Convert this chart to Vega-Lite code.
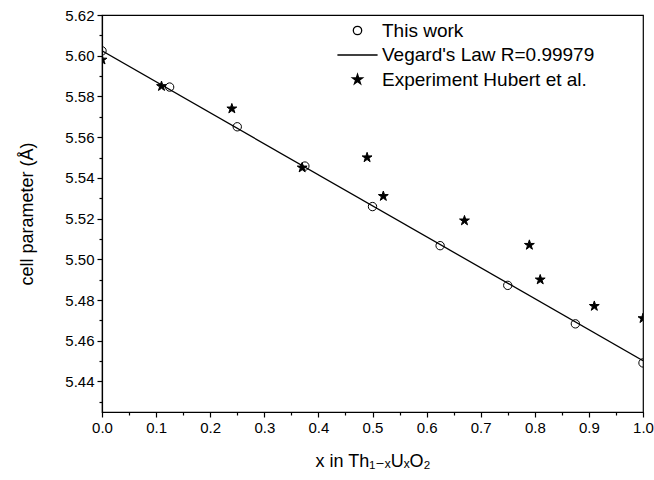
{
  "$schema": "https://vega.github.io/schema/vega-lite/v6.json",
  "width": 541,
  "height": 397,
  "autosize": {"type": "none"},
  "padding": {"left": 102, "top": 15, "right": 11, "bottom": 68},
  "background": "white",
  "config": {
    "font": "Liberation Sans, DejaVu Sans",
    "view": {"stroke": "black", "strokeWidth": 1.2},
    "axis": {"grid": false, "domainColor": "black", "tickColor": "black", "labelColor": "black", "titleColor": "black", "domainWidth": 1.2, "tickWidth": 1.2, "labelFont": "Liberation Sans, DejaVu Sans", "titleFont": "Liberation Sans, DejaVu Sans", "titleFontWeight": "normal"},
    "legend": {"labelFont": "Liberation Sans, DejaVu Sans", "labelLimit": 400}
  },
  "datasets": {
    "pts": [
      {"series": "This work", "x": 0.0, "a": 5.6024},
      {"series": "This work", "x": 0.125, "a": 5.5846},
      {"series": "This work", "x": 0.25, "a": 5.5651},
      {"series": "This work", "x": 0.375, "a": 5.5458},
      {"series": "This work", "x": 0.5, "a": 5.5259},
      {"series": "This work", "x": 0.625, "a": 5.5067},
      {"series": "This work", "x": 0.75, "a": 5.4872},
      {"series": "This work", "x": 0.875, "a": 5.4683},
      {"series": "This work", "x": 1.0, "a": 5.4491},
      {"series": "Experiment Hubert et al.", "x": 0.0, "a": 5.598},
      {"series": "Experiment Hubert et al.", "x": 0.11, "a": 5.585},
      {"series": "Experiment Hubert et al.", "x": 0.24, "a": 5.574},
      {"series": "Experiment Hubert et al.", "x": 0.37, "a": 5.545},
      {"series": "Experiment Hubert et al.", "x": 0.49, "a": 5.55},
      {"series": "Experiment Hubert et al.", "x": 0.52, "a": 5.531},
      {"series": "Experiment Hubert et al.", "x": 0.67, "a": 5.519},
      {"series": "Experiment Hubert et al.", "x": 0.79, "a": 5.507},
      {"series": "Experiment Hubert et al.", "x": 0.81, "a": 5.49},
      {"series": "Experiment Hubert et al.", "x": 0.91, "a": 5.477},
      {"series": "Experiment Hubert et al.", "x": 1.0, "a": 5.471}
    ],
    "fit": [
      {"series": "Vegard's Law R=0.99979", "x": 0.0, "a": 5.6024},
      {"series": "Vegard's Law R=0.99979", "x": 1.0, "a": 5.4502}
    ]
  },
  "layer": [
    {
      "data": {"name": "fit"},
      "mark": {"type": "line", "color": "black", "strokeWidth": 1.3, "clip": true},
      "encoding": {
        "x": {"field": "x", "type": "quantitative", "scale": {"domain": [0, 1], "nice": false, "zero": false},
          "axis": {"orient": "bottom", "values": [0, 0.1, 0.2, 0.3, 0.4, 0.5, 0.6, 0.7, 0.8, 0.9, 1.0], "format": ".1f", "tickSize": 5, "labelFontSize": 15, "labelPadding": 3, "labelFlush": false, "title": "x in Th₁₋ₓUₓO₂", "titleFontSize": 18, "titlePadding": 17}},
        "y": {"field": "a", "type": "quantitative", "scale": {"domain": [5.425, 5.62], "nice": false, "zero": false},
          "axis": {"orient": "left", "values": [5.44, 5.46, 5.48, 5.5, 5.52, 5.54, 5.56, 5.58, 5.6, 5.62], "format": ".2f", "tickSize": 5, "labelFontSize": 15, "labelPadding": 3, "labelFlush": false, "title": "cell parameter (Å)", "titleFontSize": 18, "titlePadding": 28}}
      }
    },
    {
      "data": {"name": "pts"},
      "mark": {"type": "point", "strokeWidth": 1, "size": 70, "opacity": 1, "clip": true},
      "encoding": {
        "x": {"field": "x", "type": "quantitative", "axis": null},
        "y": {"field": "a", "type": "quantitative", "axis": null},
        "shape": {"field": "series", "type": "nominal",
          "scale": {"domain": ["This work", "Vegard's Law R=0.99979", "Experiment Hubert et al."],
            "range": ["circle", "M-4.8,0L4.8,0", "M0,-1.24L0.279,-0.384L1.179,-0.383L0.451,0.147L0.729,1.003L0,0.474L-0.729,1.003L-0.451,0.147L-1.179,-0.383L-0.279,-0.384Z"]},
          "legend": {"title": null, "orient": "none", "legendX": 246, "legendY": 6, "padding": 0, "labelFontSize": 19, "labelOffset": 15, "rowPadding": 4.5, "symbolSize": 70, "symbolStrokeWidth": 1.3, "labelColor": "black"}},
        "fill": {"field": "series", "type": "nominal",
          "scale": {"domain": ["This work", "Vegard's Law R=0.99979", "Experiment Hubert et al."], "range": ["transparent", "black", "black"]},
          "legend": {"title": null, "orient": "none", "legendX": 246, "legendY": 6, "padding": 0, "labelFontSize": 19, "labelOffset": 15, "rowPadding": 4.5, "symbolSize": 70, "symbolStrokeWidth": 1.3, "labelColor": "black"}},
        "stroke": {"field": "series", "type": "nominal",
          "scale": {"domain": ["This work", "Vegard's Law R=0.99979", "Experiment Hubert et al."], "range": ["black", "black", "black"]},
          "legend": {"title": null, "orient": "none", "legendX": 246, "legendY": 6, "padding": 0, "labelFontSize": 19, "labelOffset": 15, "rowPadding": 4.5, "symbolSize": 70, "symbolStrokeWidth": 1.3, "labelColor": "black"}}
      }
    },
    {
      "data": {"name": "pts"},
      "mark": {"type": "point", "opacity": 0},
      "encoding": {
        "x": {"field": "x", "type": "quantitative",
          "axis": {"orient": "bottom", "values": [0.05, 0.15, 0.25, 0.35, 0.45, 0.55, 0.65, 0.75, 0.85, 0.95], "tickSize": 3, "labels": false, "domain": false, "title": null}},
        "y": {"field": "a", "type": "quantitative",
          "axis": {"orient": "left", "values": [5.43, 5.45, 5.47, 5.49, 5.51, 5.53, 5.55, 5.57, 5.59, 5.61], "tickSize": 3, "labels": false, "domain": false, "title": null}}
      }
    }
  ],
  "resolve": {"axis": {"x": "independent", "y": "independent"}}
}
